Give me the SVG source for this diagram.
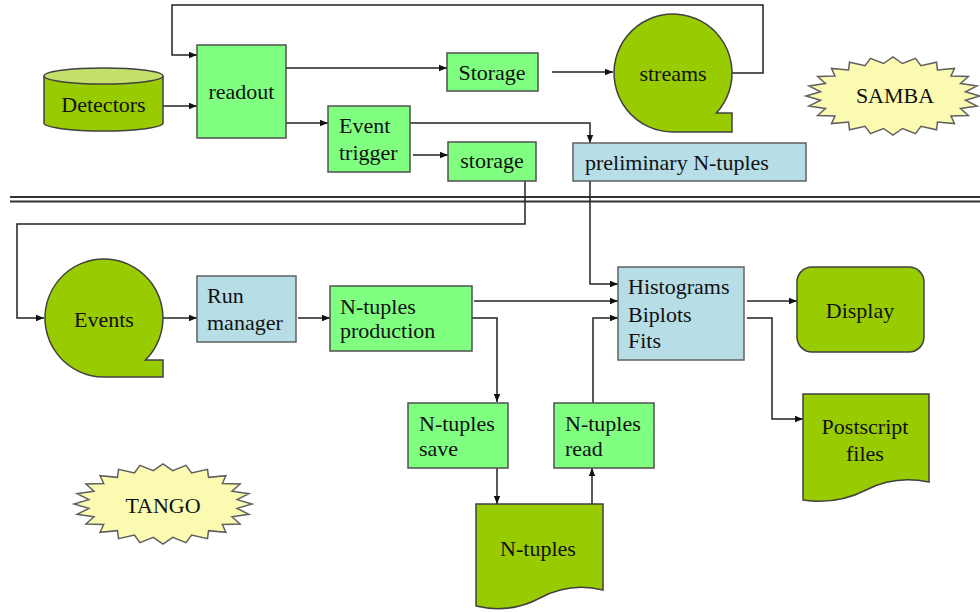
<svg xmlns="http://www.w3.org/2000/svg" xmlns:xlink="http://www.w3.org/1999/xlink" width="980" height="612" viewBox="0 0 980 612">
<style>
text{font-family:"Liberation Serif","Times New Roman",serif;font-size:22px;fill:#111}
.c{text-anchor:middle}
.lg{fill:#80FF80;stroke:#505050;stroke-width:1.5}
.dg{fill:#99CC00;stroke:#404040;stroke-width:1.5}
.lb{fill:#B7DDE6;stroke:#606060;stroke-width:1.5}
.st{fill:#FAFAB0;stroke:#606060;stroke-width:1.5}
.ln{fill:none;stroke:#222;stroke-width:1.5}
.arr{fill:none;stroke:#222;stroke-width:1.5;marker-end:url(#ah)}
</style>
<defs>
<marker id="ah" viewBox="0 0 10 10" refX="10" refY="5" markerWidth="8" markerHeight="8" markerUnits="userSpaceOnUse" orient="auto">
<path d="M0,1 L10,5 L0,9 Z" fill="#111"/>
</marker>
<polygon id="star" vector-effect="non-scaling-stroke" points="100,0 83.28,10.96 96.59,25.88 77.61,32.15 86.6,50 66.65,51.14 70.71,70.71 51.14,66.65 50,86.6 32.15,77.61 25.88,96.59 10.96,83.28 0,100 -10.96,83.28 -25.88,96.59 -32.15,77.61 -50,86.6 -51.14,66.65 -70.71,70.71 -66.65,51.14 -86.6,50 -77.61,32.15 -96.59,25.88 -83.28,10.96 -100,0 -83.28,-10.96 -96.59,-25.88 -77.61,-32.15 -86.6,-50 -66.65,-51.14 -70.71,-70.71 -51.14,-66.65 -50,-86.6 -32.15,-77.61 -25.88,-96.59 -10.96,-83.28 0,-100 10.96,-83.28 25.88,-96.59 32.15,-77.61 50,-86.6 51.14,-66.65 70.71,-70.71 66.65,-51.14 86.6,-50 77.61,-32.15 96.59,-25.88 83.28,-10.96"/>
</defs>
<rect width="980" height="612" fill="#fff"/>

<g id="separator">
<line x1="10" y1="197" x2="980" y2="197" stroke="#333" stroke-width="1.8"/>
<line x1="10" y1="201.5" x2="980" y2="201.5" stroke="#333" stroke-width="1.8"/>
</g>

<g id="connectors">
<path class="arr" d="M732,73 H763 V5 H172 V55 H197"/>
<path class="arr" d="M163,106 H197"/>
<path class="arr" d="M286,68 H447"/>
<path class="arr" d="M552,72 H613"/>
<path class="arr" d="M282,123 H328"/>
<path class="arr" d="M413,155 H448"/>
<path class="arr" d="M410,123 H590 V143"/>
<path class="arr" d="M525,181 V224 H17 V318 H44"/>
<path class="arr" d="M590,181 V284 H618"/>
<path class="arr" d="M163,318 H197"/>
<path class="arr" d="M298,318 H330"/>
<path class="arr" d="M474,301 H618"/>
<path class="arr" d="M472,318 H497 V402"/>
<path class="arr" d="M497,468 V504"/>
<path class="arr" d="M592,504 V468"/>
<path class="arr" d="M593,403 V318 H618"/>
<path class="arr" d="M747,301 H797"/>
<path class="arr" d="M747,318 H772 V419 H803"/>
</g>

<g id="detectors">
<path class="dg" d="M44,76 V123 A59.5,8 0 0 0 163,123 V76"/>
<ellipse cx="103.5" cy="76" rx="59.5" ry="8" fill="#C4E06A" stroke="#404040" stroke-width="1.5"/>
<text class="c" x="103.5" y="112">Detectors</text>
</g>

<g id="readout">
<rect class="lg" x="197" y="45" width="89" height="93"/>
<text class="c" x="241.5" y="99">readout</text>
</g>

<g id="storage1">
<rect class="lg" x="447" y="53" width="91" height="38"/>
<text class="c" x="492" y="80">Storage</text>
</g>

<g id="streams">
<path class="dg" d="M673,132 A59,59 0 1 1 716.4,113 H732 V132 Z"/>
<text class="c" x="673" y="81">streams</text>
</g>

<g id="samba">
<use xlink:href="#star" href="#star" class="st" transform="translate(893,96) scale(0.87,0.39)"/>
<text class="c" x="895" y="103">SAMBA</text>
</g>

<g id="event-trigger">
<rect class="lg" x="328" y="106" width="82" height="66"/>
<text x="339" y="133">Event</text>
<text x="339" y="160">trigger</text>
</g>

<g id="storage2">
<rect class="lg" x="448" y="142" width="88" height="39"/>
<text class="c" x="492" y="168">storage</text>
</g>

<g id="preliminary">
<rect class="lb" x="573" y="143" width="233" height="38"/>
<text x="585" y="170">preliminary N-tuples</text>
</g>

<g id="events">
<path class="dg" d="M104,377 A59,59 0 1 1 145.4,360 H163 V377 Z"/>
<text class="c" x="104" y="327">Events</text>
</g>

<g id="run-manager">
<rect class="lb" x="197" y="276" width="99" height="66"/>
<text x="207" y="303">Run</text>
<text x="207" y="330">manager</text>
</g>

<g id="ntuples-production">
<rect class="lg" x="330" y="286" width="142" height="65"/>
<text x="340" y="314">N-tuples</text>
<text x="340" y="338">production</text>
</g>

<g id="histograms">
<rect class="lb" x="618" y="267" width="126" height="93"/>
<text x="628" y="294">Histograms</text>
<text x="628" y="322">Biplots</text>
<text x="628" y="348">Fits</text>
</g>

<g id="display">
<rect class="dg" x="797" y="267" width="127" height="85" rx="15" ry="15"/>
<text class="c" x="860" y="318">Display</text>
</g>

<g id="postscript">
<path class="dg" d="M803,394 H929 V482 Q895,475 866,490 T803,500 Z"/>
<text class="c" x="865" y="434">Postscript</text>
<text class="c" x="865" y="461">files</text>
</g>

<g id="ntuples-save">
<rect class="lg" x="408" y="403" width="100" height="65"/>
<text x="419" y="431">N-tuples</text>
<text x="419" y="456">save</text>
</g>

<g id="ntuples-read">
<rect class="lg" x="554" y="403" width="100" height="65"/>
<text x="565" y="431">N-tuples</text>
<text x="565" y="456">read</text>
</g>

<g id="ntuples-file">
<path class="dg" d="M476,504 H603 V590 Q570,582 540,598 T476,606 Z"/>
<text class="c" x="538" y="556">N-tuples</text>
</g>

<g id="tango">
<use xlink:href="#star" href="#star" class="st" transform="translate(163,504) scale(0.89,0.40)"/>
<text class="c" x="163" y="513">TANGO</text>
</g>
</svg>
